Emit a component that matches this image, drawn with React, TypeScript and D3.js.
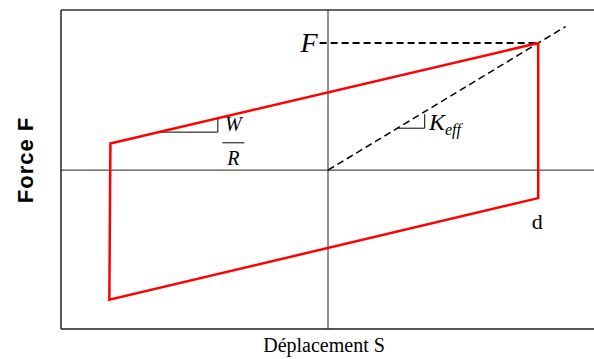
import React, { useEffect, useRef } from 'react';
import * as d3 from 'd3';

// hysteresis loop corners (displacement, force), normalised so d = 1, F = 1
const loopS = [-1.035, 1, 1, -1.04];
const loopF = [0.21, 1, -0.22, -1.02];
// secant stiffness line and the F level
const keffS = [0, 1.13];
const keffF = [0, 1.13];
const fLevelS = [-0.04, 1];
// small slope triangles
const wrTriS = [-0.805, -0.524, -0.524];
const wrTriF = [0.299, 0.299, 0.408];
const kTriS = [0.33, 0.46, 0.46];
const kTriF = [0.33, 0.33, 0.44];

const W = 594;
const H = 359;

const App = () => {
  const ref = useRef<SVGSVGElement>(null);

  useEffect(() => {
    const svg = d3.select(ref.current);
    svg.selectAll('*').remove();

    const x = d3.scaleLinear().domain([-1.27, 1.27]).range([61, 595]);
    const y = d3.scaleLinear().domain([-1.25, 1.26]).range([329, 10]);
    const line = d3.line<[number, number]>().x(d => x(d[0])).y(d => y(d[1]));
    const zip = (a: number[], b: number[]) => a.map((v, i) => [v, b[i]] as [number, number]);

    // frame
    svg.append('line').attr('x1', x(-1.27)).attr('x2', W).attr('y1', y(1.26)).attr('y2', y(1.26))
      .attr('stroke', '#666').attr('stroke-width', 2);
    svg.append('line').attr('x1', x(-1.27)).attr('x2', W).attr('y1', y(-1.25)).attr('y2', y(-1.25))
      .attr('stroke', '#555').attr('stroke-width', 2);
    svg.append('line').attr('x1', x(-1.27)).attr('x2', x(-1.27)).attr('y1', y(1.26)).attr('y2', y(-1.25))
      .attr('stroke', '#222').attr('stroke-width', 1.5);

    // zero axes
    svg.append('line').attr('x1', x(-1.27)).attr('x2', W).attr('y1', y(0)).attr('y2', y(0))
      .attr('stroke', '#222').attr('stroke-width', 1);
    svg.append('line').attr('x1', x(0)).attr('x2', x(0)).attr('y1', y(1.26)).attr('y2', y(-1.25))
      .attr('stroke', '#222').attr('stroke-width', 1);

    // dashed lines
    svg.append('path').attr('d', line(zip(fLevelS, [1, 1])))
      .attr('fill', 'none').attr('stroke', '#000').attr('stroke-width', 2).attr('stroke-dasharray', '7,4');
    svg.append('path').attr('d', line(zip(keffS, keffF)))
      .attr('fill', 'none').attr('stroke', '#000').attr('stroke-width', 1.5).attr('stroke-dasharray', '7,4');

    // slope triangles
    svg.append('path').attr('d', line(zip(wrTriS, wrTriF)))
      .attr('fill', 'none').attr('stroke', '#000').attr('stroke-width', 1);
    svg.append('path').attr('d', line(zip(kTriS, kTriF)))
      .attr('fill', 'none').attr('stroke', '#000').attr('stroke-width', 1);

    // loop
    svg.append('path').attr('d', line(zip(loopS, loopF)) + 'Z')
      .attr('fill', 'none').attr('stroke', '#ff0000').attr('stroke-width', 2.5)
      .attr('stroke-linejoin', 'miter');

    const serif = '"Liberation Serif", "DejaVu Serif", serif';

    // F label
    svg.append('text').attr('x', x(-0.04) - 2).attr('y', y(1) + 9).attr('text-anchor', 'end')
      .attr('font-family', serif).attr('font-style', 'italic').attr('font-size', 28).text('F');

    // K_eff label
    const k = svg.append('text').attr('x', x(0.48)).attr('y', y(0.33) + 2)
      .attr('font-family', serif).attr('font-style', 'italic').attr('font-size', 24);
    k.append('tspan').text('K');
    k.append('tspan').attr('font-size', 16).attr('dy', 5).text('eff');

    // W / R label
    const fx = x(-0.45);
    svg.append('text').attr('x', fx).attr('y', y(0.305)).attr('text-anchor', 'middle')
      .attr('font-family', serif).attr('font-style', 'italic').attr('font-size', 20).text('W');
    svg.append('line').attr('x1', fx - 11).attr('x2', fx + 11).attr('y1', y(0.215)).attr('y2', y(0.215))
      .attr('stroke', '#000').attr('stroke-width', 1);
    svg.append('text').attr('x', fx).attr('y', y(0.04)).attr('text-anchor', 'middle')
      .attr('font-family', serif).attr('font-style', 'italic').attr('font-size', 20).text('R');

    // d label
    svg.append('text').attr('x', x(1) - 1).attr('y', y(-0.46)).attr('text-anchor', 'middle')
      .attr('font-family', serif).attr('font-size', 22).text('d');

    // axis titles
    svg.append('text').attr('x', x(0) - 4).attr('y', 352).attr('text-anchor', 'middle')
      .attr('font-family', serif).attr('font-size', 20).text('Déplacement S');
    svg.append('text').attr('transform', `translate(33,160) rotate(-90)`).attr('text-anchor', 'middle')
      .attr('font-family', '"Liberation Sans", Arial, sans-serif').attr('font-weight', 'bold')
      .attr('font-size', 22).attr('letter-spacing', 1).text('Force  F');
  }, []);

  return (
    <svg ref={ref} width={W} height={H}
      style={{ position: 'absolute', left: 0, top: 0, background: '#fff' }} />
  );
};

export default App;
